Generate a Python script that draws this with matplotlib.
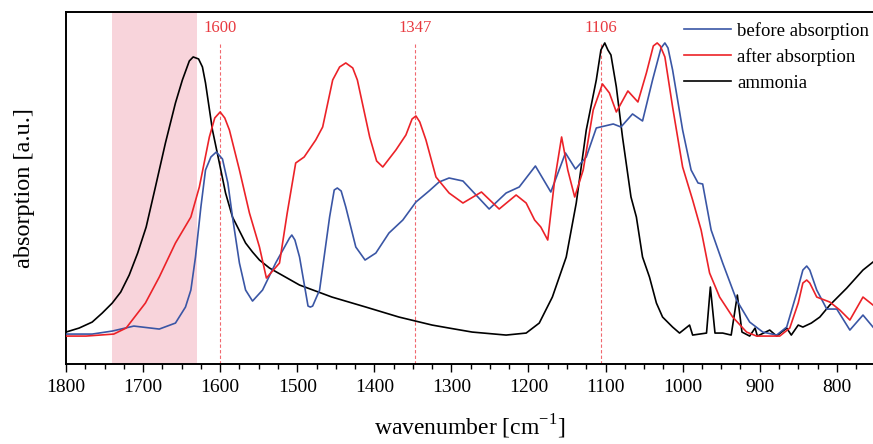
import numpy as np
import matplotlib
matplotlib.use('Agg')
import matplotlib.pyplot as plt

plt.rcParams['font.family'] = ['Liberation Serif', 'DejaVu Serif']

# ammonia (black)
wn_amm = [1800, 1783, 1766, 1753, 1740, 1729, 1718, 1707, 1696, 1684, 1671, 1658, 1649, 1640, 1635,
          1628, 1623, 1619, 1610, 1601, 1593, 1584, 1567, 1558,
          1549, 1536, 1497, 1455, 1411, 1368, 1325, 1303, 1273, 1229, 1203, 1186, 1169, 1151, 1138,
          1125, 1112, 1106, 1101, 1097, 1093, 1086, 1078, 1067, 1060, 1052, 1043, 1034, 1026, 1013, 1004, 991,
          987, 969, 964, 958, 948, 937, 929, 923, 913, 906, 903, 887, 878, 865, 859, 850, 844, 833,
          822, 809, 787, 766, 753]
h_amm = [32, 36, 42, 51, 61, 72, 89, 111, 137, 177, 221, 261, 284, 303, 307,
         305, 297, 281, 234, 201, 171, 147, 121, 112,
         104, 96, 79, 67, 57, 47, 39, 36, 32, 29, 31, 41, 67, 107, 161,
         234, 284, 314, 321, 314, 309, 277, 227, 167, 147, 107, 87, 61, 47, 37, 31, 39,
         29, 31, 77, 31, 31, 29, 69, 32, 28, 36, 28, 34, 28, 36, 29, 39, 37, 41,
         47, 59, 76, 94, 102]

# before absorption (blue)
wn_before = [1800, 1766, 1740, 1712, 1679, 1658, 1645, 1638, 1632, 1625, 1619, 1612, 1605, 1597, 1590,
             1584, 1575, 1567, 1558, 1545, 1528, 1510, 1507, 1503, 1497, 1486, 1483, 1480, 1471, 1458,
             1452, 1448, 1443, 1437, 1424, 1412, 1398,
             1381, 1363, 1346, 1329, 1316, 1303, 1285, 1268, 1251, 1229, 1212, 1191, 1171, 1152,
             1139, 1125, 1112, 1090, 1080, 1065, 1052, 1039, 1028, 1023, 1019, 1013, 1000, 989, 980, 974, 963,
             948, 930, 913, 896, 878, 865, 852, 844, 839, 835, 826, 813, 800, 783, 766, 753]
h_before = [30, 30, 33, 38, 35, 41, 57, 74, 107, 157, 194, 207, 212, 205, 181,
            147, 101, 74, 63, 74, 101, 126, 129, 124, 107, 58, 57, 58, 74, 147,
            174, 176, 173, 157, 117, 104, 111,
            131, 144, 162, 173, 182, 186, 183, 169, 155, 171, 177, 198, 172, 211,
            195, 207, 236, 240, 237, 250, 243, 284, 316, 321, 316, 294, 234, 194, 181, 180, 134,
            101, 64, 42, 32, 29, 37, 71, 94, 98, 94, 74, 55, 55, 34, 49, 37]

# after absorption (red)
wn_after = [1800, 1774, 1738, 1722, 1697, 1679, 1658, 1638, 1627, 1614, 1607, 1600, 1594, 1588, 1575, 1562,
            1549, 1540, 1523, 1513, 1502, 1491, 1476, 1467, 1454, 1445, 1437, 1428, 1422, 1406, 1397, 1389, 1372,
            1359, 1351, 1346, 1341, 1333, 1320, 1303, 1285, 1261, 1238, 1216, 1203, 1192, 1184, 1175, 1166,
            1157, 1149, 1140, 1129, 1116, 1104, 1095, 1086, 1071, 1058, 1047, 1038, 1033, 1029, 1023, 1013,
            1000, 987, 976, 965, 952, 935, 917, 904, 874, 861, 850, 844, 839, 835, 826, 809, 796, 783, 766, 753]
h_after = [28, 28, 30, 36, 61, 87, 121, 147, 177, 227, 246, 252, 246, 234, 194, 151,
           117, 86, 101, 151, 201, 207, 224, 237, 284, 297, 301, 296, 284, 227, 203, 197, 214,
           229, 245, 248, 242, 224, 187, 171, 161, 172, 155, 169, 161, 144, 137, 124, 184,
           227, 194, 167, 194, 254, 280, 271, 252, 273, 262, 291, 318, 321, 318, 307, 257,
           197, 164, 134, 91, 67, 47, 32, 28, 28, 36, 61, 81, 84, 81, 67, 62, 54, 44, 67, 59]

marks = [1600, 1347, 1106]
labels = ['before absorption', 'after absorption', 'ammonia']

fig = plt.figure(figsize=(8.73, 4.44), dpi=100)
ax = fig.add_axes([0.0756, 0.18, 0.9244, 0.792])

ax.axvspan(1740, 1630, color='#f8d4db', lw=0, zorder=0)
for m in marks:
    ax.plot([m, m], [0, 0.916], transform=ax.get_xaxis_transform(), color='#f0686e',
            lw=0.8, ls=(0, (3, 2)), zorder=1)
    ax.text(m, 0.955, str(m), transform=ax.get_xaxis_transform(), color='#e8393f',
            fontsize=12, ha='center', va='center')

ax.plot(wn_before, np.array(h_before) / 100, color='#3a56a5', lw=1.2, label=labels[0], zorder=3)
ax.plot(wn_after, np.array(h_after) / 100, color='#ec2228', lw=1.2, label=labels[1], zorder=3)
ax.plot(wn_amm, np.array(h_amm) / 100, color='black', lw=1.2, label=labels[2], zorder=2)

ax.set_xlim(1800, 753)
ax.set_ylim(0, 3.515)
ax.set_xticks(np.arange(1800, 799, -100))
ax.set_xticks(np.arange(1800, 753, -25), minor=True)
ax.set_yticks([])
ax.tick_params(axis='x', which='major', direction='out', length=5.5, width=1.0, labelsize=14, pad=5)
ax.tick_params(axis='x', which='minor', direction='out', length=3.5, width=1.0)
for s in ['left', 'top', 'bottom']:
    ax.spines[s].set_linewidth(1.4)
ax.spines['right'].set_visible(False)

ax.set_xlabel('wavenumber [cm$^{\\mathregular{-1}}$]', fontsize=17, labelpad=12)
ax.set_ylabel('absorption [a.u.]', fontsize=17.5, labelpad=22)

ax.legend(loc='upper right', frameon=False, fontsize=13.5, handlelength=2.5,
          handletextpad=0.35, labelspacing=0.45, borderaxespad=0.1, bbox_to_anchor=(1.007, 1.0))

fig.savefig('out.png', dpi=100)
